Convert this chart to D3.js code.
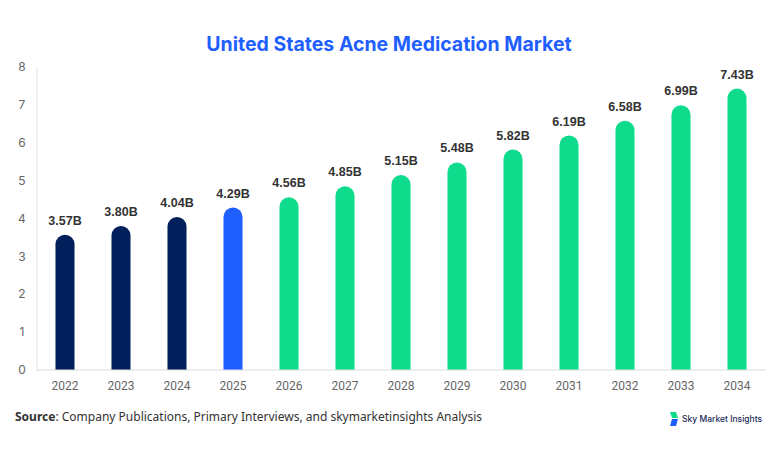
<!DOCTYPE html>
<html>
<head>
<meta charset="utf-8">
<script src="https://cdn.jsdelivr.net/npm/d3@7"></script>
<style>
  body { margin: 0; background: #fff; font-family: Inter, "Noto Sans", sans-serif; }
  #chart svg { display: block; }
</style>
</head>
<body>
<div id="chart"></div>
<script>
// data
const years = ['2022', '2023', '2024', '2025', '2026', '2027', '2028', '2029', '2030', '2031', '2032', '2033', '2034'];
const values = [3.57, 3.80, 4.04, 4.29, 4.56, 4.85, 5.15, 5.48, 5.82, 6.19, 6.58, 6.99, 7.43];
const periods = ['hist', 'hist', 'hist', 'base', 'fcst', 'fcst', 'fcst', 'fcst', 'fcst', 'fcst', 'fcst', 'fcst', 'fcst'];
const yTicks = [0, 1, 2, 3, 4, 5, 6, 7, 8];

const width = 782;
const height = 454;
const margin = { top: 67, right: 17, bottom: 84, left: 37 };

const color = d3.scaleOrdinal()
    .domain(['hist', 'base', 'fcst'])
    .range(['#001f5b', '#1f5fff', '#0fdb8c']);

const svg = d3.select('#chart')
    .append('svg')
    .attr('width', width)
    .attr('height', height);

const x = d3.scaleBand()
    .domain(years)
    .range([margin.left, width - margin.right])
    .paddingInner(0.66)
    .paddingOuter(0.33);

const y = d3.scaleLinear()
    .domain([0, 8])
    .range([height - margin.bottom, margin.top]);

// title
svg.append('text')
    .attr('x', width / 2 - 2)
    .attr('y', 51)
    .attr('text-anchor', 'middle')
    .style('font-family', 'Inter, sans-serif')
    .style('font-size', '19.5px')
    .style('font-weight', 700)
    .style('fill', '#1f5fff')
    .text('United States Acne Medication Market');

// y axis line + labels
svg.append('line')
    .attr('x1', margin.left).attr('x2', margin.left)
    .attr('y1', y(8)).attr('y2', y(0))
    .style('stroke', '#e3e3e3');

svg.selectAll('.ylab')
    .data(yTicks)
    .enter().append('text')
    .attr('class', 'ylab')
    .attr('x', 22)
    .attr('y', d => y(d))
    .attr('dy', '0.35em')
    .attr('text-anchor', 'middle')
    .style('font-size', '12px')
    .style('fill', '#666')
    .text(d => d);

// bars with rounded tops
const r = x.bandwidth() / 2;
svg.selectAll('.bar')
    .data(years)
    .enter().append('path')
    .attr('class', 'bar')
    .attr('d', (d, i) => {
        const x0 = x(d), x1 = x0 + x.bandwidth();
        const top = y(values[i]), bottom = y(0);
        return `M${x0},${bottom}V${top + r}A${r},${r} 0 0 1 ${x1},${top + r}V${bottom}Z`;
    })
    .style('fill', (d, i) => color(periods[i]));

// baseline
svg.append('line')
    .attr('x1', margin.left).attr('x2', width - margin.right + 1)
    .attr('y1', y(0)).attr('y2', y(0))
    .style('stroke', '#dcdcdc');

// value labels
svg.selectAll('.vlab')
    .data(years)
    .enter().append('text')
    .attr('class', 'vlab')
    .attr('x', d => x(d) + x.bandwidth() / 2)
    .attr('y', (d, i) => y(values[i]) - 10)
    .attr('text-anchor', 'middle')
    .style('font-family', '"Liberation Sans", Arial, sans-serif')
    .style('font-size', '12.5px')
    .style('font-weight', 700)
    .style('fill', '#333')
    .text((d, i) => values[i].toFixed(2) + 'B');

// x labels
svg.selectAll('.xlab')
    .data(years)
    .enter().append('text')
    .attr('class', 'xlab')
    .attr('x', d => x(d) + x.bandwidth() / 2)
    .attr('y', 390)
    .attr('text-anchor', 'middle')
    .style('font-family', 'Roboto, sans-serif')
    .style('font-size', '12px')
    .style('fill', '#666')
    .text(d => d);

// source note
const src = svg.append('text')
    .attr('x', 15)
    .attr('y', 421)
    .style('font-family', '"Noto Sans", sans-serif')
    .style('font-size', '12px')
    .style('fill', '#333');
src.append('tspan').style('font-weight', 700).text('Source');
src.append('tspan').text(': Company Publications, Primary Interviews, and skymarketinsights Analysis');

// logo
const logo = svg.append('g').attr('transform', 'translate(668,412)');
logo.append('path').attr('d', 'M2,0H8L10,6H4Z').style('fill', '#0fdb8c');
logo.append('path').attr('d', 'M4,7H10L8,14H2Z').style('fill', '#1f5fff');
logo.append('text')
    .attr('x', 14)
    .attr('y', 10)
    .style('font-family', 'Inter, sans-serif')
    .style('font-size', '8.5px')
    .style('font-weight', 500)
    .style('fill', '#1a2a5a')
    .text('Sky Market Insights');
</script>
</body>
</html>
